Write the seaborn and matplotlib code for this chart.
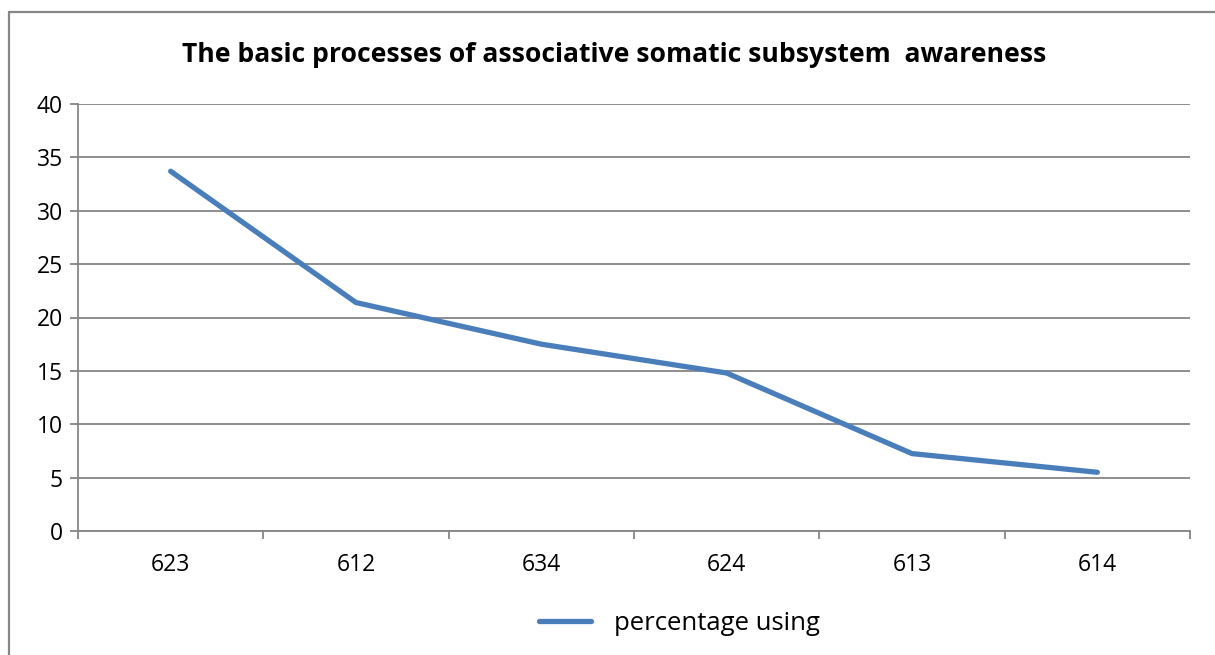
import matplotlib
matplotlib.use("Agg")
import matplotlib.pyplot as plt
import seaborn as sns
import pandas as pd
import numpy as np
from matplotlib.lines import Line2D

categories = ["623", "612", "634", "624", "613", "614"]
values = [33.7, 21.4, 17.5, 14.8, 7.25, 5.5]
series_name = "percentage using"
title = "The basic processes of associative somatic subsystem  awareness"

sns.set_theme(style="white")
plt.rcParams['font.family'] = ['Open Sans', 'DejaVu Sans']

df = pd.DataFrame({"pos": np.arange(len(categories)), "value": values, "series": series_name})

fig = plt.figure(figsize=(12.15, 6.55), dpi=100)
ax = fig.add_axes([78/1215, 1-531/655, (1190-78)/1215, (531-104)/655])

grid_c = "#868686"
sns.lineplot(data=df, x="pos", y="value", hue="series", palette=["#4A7EBB"],
             linewidth=3.8, ax=ax, legend=True, solid_capstyle="round")

ax.set_xlim(-0.5, len(categories) - 0.5)
ax.set_ylim(0, 40)
ax.set_yticks(np.arange(0, 41, 5))
ax.set_yticklabels([str(v) for v in range(0, 41, 5)], fontsize=16.5, color="black")
ax.yaxis.grid(True, color=grid_c, linewidth=1.3)
ax.set_axisbelow(True)
ax.set_xticks(np.arange(len(categories)))
ax.set_xticklabels(categories, fontsize=16.5, color="black")
ax.set_xticks(np.arange(-0.5, len(categories)), minor=True)
ax.tick_params(axis="x", which="major", length=0, pad=16)
ax.tick_params(axis="x", which="minor", length=6, color=grid_c, width=1.3, direction="out", bottom=True)
ax.tick_params(axis="y", length=6, color=grid_c, width=1.3, direction="out", left=True, pad=5)
ax.set_xlabel("")
ax.set_ylabel("")
for s in ["top", "right"]:
    ax.spines[s].set_visible(False)
for s in ["left", "bottom"]:
    ax.spines[s].set_color(grid_c)
    ax.spines[s].set_linewidth(1.3)

leg = ax.legend(loc="center", bbox_to_anchor=(0.541, -0.217), frameon=False, fontsize=18.5,
                handlelength=2.0, handletextpad=0.9)
leg.set_title(None)
for t in leg.get_texts():
    t.set_color("black")

fig.text(614/1215, 1-55/655, title, ha="center", va="center", fontsize=19.1,
         fontweight="bold", color="black")

# chart-area border (top and left edges visible)
fig.add_artist(Line2D([8.5/1215, 1], [1-12/655, 1-12/655], transform=fig.transFigure,
                      color="#868686", linewidth=1.6))
fig.add_artist(Line2D([8.5/1215, 8.5/1215], [0, 1-12/655], transform=fig.transFigure,
                      color="#868686", linewidth=1.6))

fig.savefig("out.png", dpi=100)
